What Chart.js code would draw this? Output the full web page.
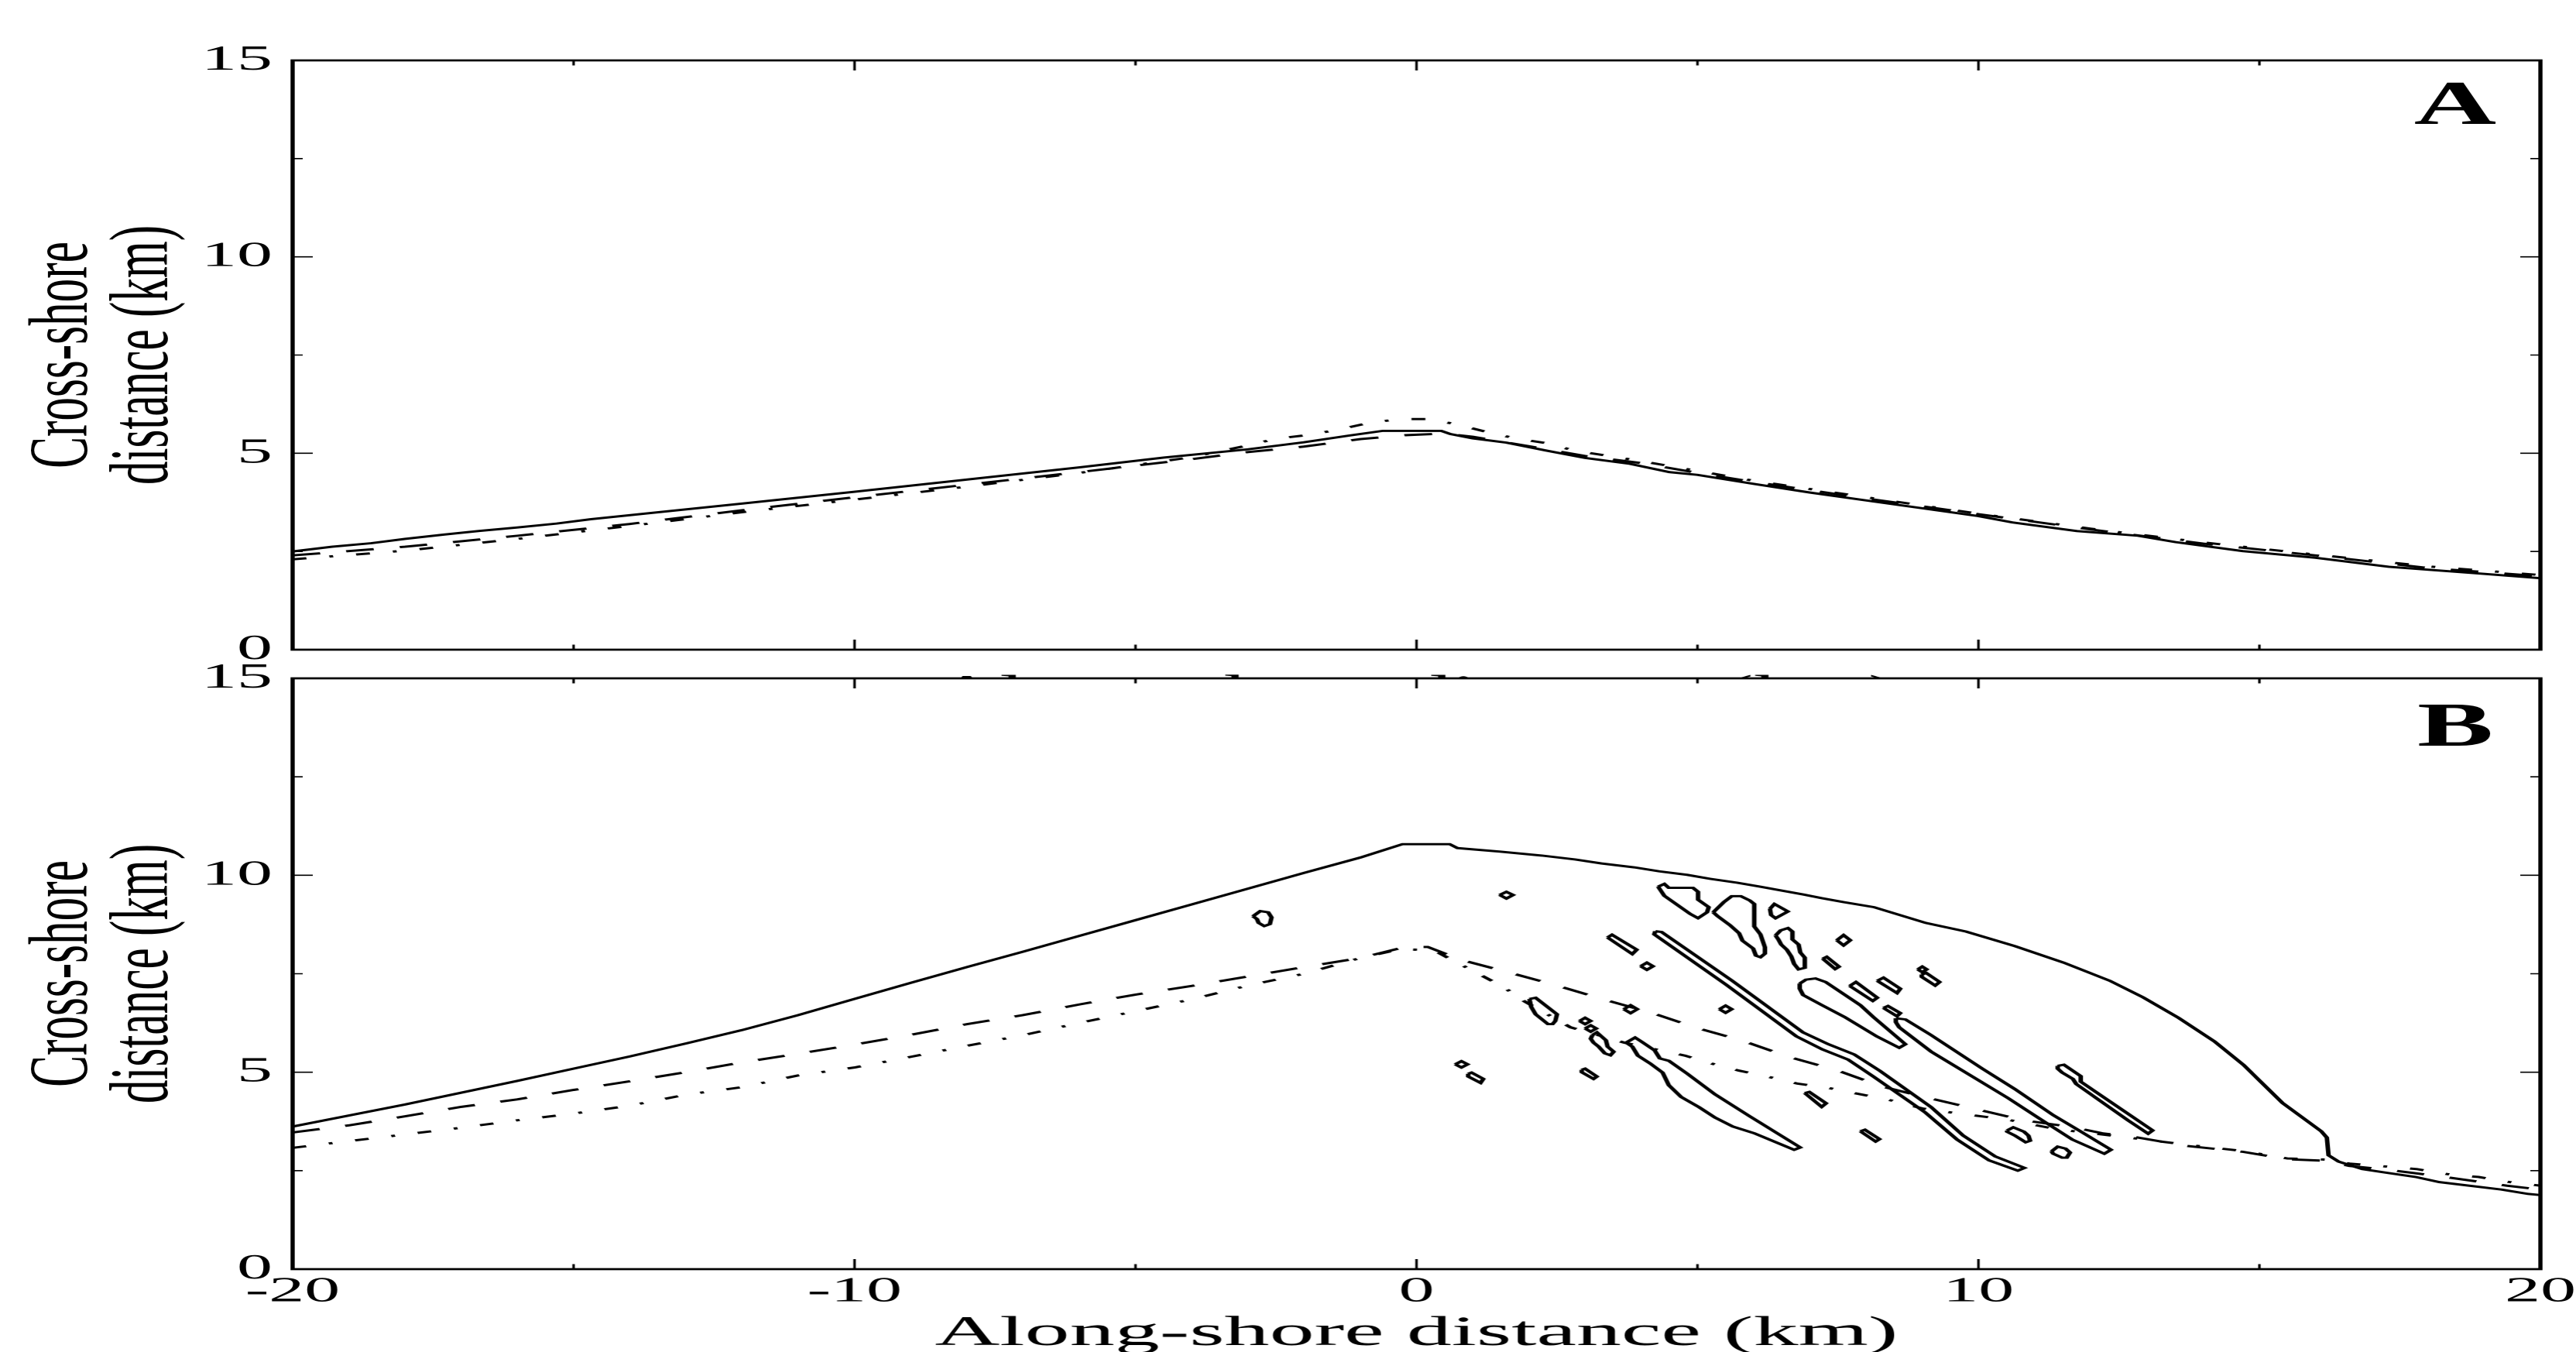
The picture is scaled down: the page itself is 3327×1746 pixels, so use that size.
<!DOCTYPE html>
<html><head><meta charset="utf-8">
<script src="https://cdn.jsdelivr.net/npm/chart.js@4.4.1/dist/chart.umd.min.js"></script>
<style>
html,body{margin:0;padding:0;background:#fff;}
#wrap{position:relative;width:3327px;height:1746px;overflow:hidden;background:#fff;}
#wrap canvas{position:absolute;left:0;}
</style></head><body>
<div id="wrap">
<canvas id="cA" width="1664" height="930" style="top:0px;width:3327px;height:930px"></canvas>
<canvas id="cB" width="1664" height="946" style="top:800px;width:3327px;height:946px"></canvas>
</div>
<script>
// ---------------- data (km) ----------------
const xRange = [-20, 20];
const yRange = [0, 15];
const xLabelTicks = [-20, -10, 0, 10, 20];
const xMajorTicks = [-10, 0, 10];
const xMinorTicks = [-15, -5, 5, 15];
const yLabelTicks = [0, 5, 10, 15];
const yMajorTicks = [5, 10];
const yMinorTicks = [2.5, 7.5, 12.5];

const xTitle = "Along-shore distance (km)";
const yTitleLines = ["Cross-shore", "distance (km)"];
const panelLabels = ["A", "B"];

// Panel A contours
const aSolid = [[-20,2.5],[-19.3,2.62],[-18.6,2.71],[-18,2.82],[-17.3,2.93],[-16.7,3.02],[-16,3.11],[-15.3,3.21],[-14.7,3.32],[-12,3.72],[-10,4.02],[-8,4.33],[-6,4.64],[-4.5,4.89],[-3,5.1],[-2,5.28],[-1.2,5.45],[-0.6,5.57],[0.44,5.57],[0.6,5.49],[1.0,5.38],[1.6,5.27],[2.3,5.07],[3.0,4.88],[3.8,4.73],[4.5,4.52],[5,4.45],[6,4.22],[7,4.0],[8,3.8],[9,3.6],[10,3.4],[10.6,3.24],[11.75,3.02],[12.84,2.9],[13.5,2.74],[14.7,2.51],[16,2.34],[17.3,2.11],[18.9,1.94],[20,1.82]];
const aDashed = [[-20,2.4],[-18,2.62],[-16,2.9],[-14,3.2],[-12,3.55],[-10,3.88],[-8,4.2],[-6,4.52],[-4,4.85],[-3,5.03],[-2,5.17],[-1,5.36],[-0.2,5.46],[0.5,5.5],[1,5.42],[2,5.18],[3,4.93],[4,4.75],[5,4.5],[6,4.27],[8,3.85],[10,3.45],[12,3.06],[14,2.7],[16,2.4],[18,2.08],[20,1.87]];
const aDashDot = [[-20,2.3],[-18,2.52],[-16,2.82],[-14,3.15],[-12,3.5],[-10,3.82],[-8,4.15],[-6,4.5],[-4,4.9],[-3,5.2],[-2.5,5.37],[-1.9,5.47],[-1.4,5.6],[-0.85,5.77],[-0.3,5.87],[0.2,5.87],[0.7,5.74],[1.2,5.56],[1.75,5.38],[2.3,5.26],[2.8,5.07],[4,4.8],[6,4.3],[8,3.88],[10,3.46],[12,3.08],[14,2.73],[16,2.42],[18,2.12],[20,1.9]];

// Panel B contours
const bSolid = [[-20,3.62],[-19,3.9],[-18,4.18],[-17,4.48],[-16,4.78],[-15,5.09],[-14,5.4],[-13,5.73],[-12,6.07],[-11,6.45],[-10,6.86],[-9,7.27],[-8,7.67],[-7,8.06],[-6,8.46],[-5,8.86],[-4,9.26],[-3,9.66],[-2,10.06],[-1,10.45],[-0.25,10.79],[0.59,10.79],[0.73,10.69],[1.49,10.6],[2.23,10.5],[2.83,10.4],[3.29,10.3],[3.88,10.2],[4.32,10.1],[4.82,10.01],[5.22,9.91],[5.71,9.81],[6.12,9.71],[6.5,9.61],[6.89,9.51],[7.21,9.42],[7.59,9.32],[8.14,9.19],[9.06,8.79],[9.78,8.57],[10.65,8.2],[11.52,7.78],[12.34,7.32],[12.93,6.9],[13.56,6.38],[14.2,5.78],[14.72,5.18],[15.41,4.22],[16.1,3.5],[16.2,3.34],[16.23,2.89],[16.41,2.73],[16.83,2.54],[17.25,2.45],[17.78,2.34],[18.2,2.21],[18.73,2.12],[19.31,2.02],[19.78,1.91],[20,1.88]];
const bDashed = [[-20,3.47],[-19,3.65],[-18,3.88],[-17,4.12],[-16,4.31],[-15,4.55],[-14,4.77],[-13,5.0],[-12,5.25],[-11,5.47],[-10,5.7],[-9,5.95],[-8,6.22],[-7,6.45],[-6,6.72],[-5,6.97],[-4,7.19],[-3,7.43],[-2,7.67],[-1,7.9],[-0.2,8.18],[0.2,8.18],[0.8,7.85],[1.6,7.55],[2.5,7.2],[3.3,6.86],[4.2,6.5],[5.0,6.12],[5.8,5.8],[6.6,5.4],[7.5,5.04],[8.3,4.63],[9.1,4.35],[10,4.05],[10.8,3.78],[11.7,3.6],[12.2,3.45],[12.8,3.35],[13.7,3.13],[14.7,2.98],[15.5,2.79],[16.2,2.75],[16.6,2.62],[17.3,2.52],[18.3,2.34],[19.4,2.12],[20,2.02]];
const bDashDot = [[-20,3.08],[-19,3.25],[-18,3.42],[-17,3.59],[-16,3.78],[-15,3.95],[-14,4.15],[-13,4.43],[-12,4.62],[-11,4.92],[-10,5.12],[-9,5.39],[-8,5.67],[-7,5.94],[-6,6.25],[-5,6.55],[-4,6.85],[-3,7.2],[-2,7.5],[-1,7.9],[-0.3,8.12],[0.3,8.1],[1.14,7.47],[1.55,7.16],[1.92,6.8],[2.74,6.14],[3.7,5.75],[4.78,5.42],[5.25,5.22],[5.74,5.04],[6.27,4.88],[6.78,4.71],[7.33,4.6],[7.86,4.45],[8.4,4.3],[9.0,4.08],[9.6,3.96],[10.5,3.8],[11.4,3.55],[12.2,3.42],[12.9,3.3],[13.7,3.16],[14.7,3.0],[15.5,2.81],[16.2,2.78],[16.6,2.68],[17.3,2.6],[17.8,2.54],[18.4,2.4],[18.9,2.34],[19.5,2.2],[20,2.12]];

// Panel B closed contours (islands)
const bIsland01 = [[-2.91,8.96],[-2.78,9.09],[-2.64,9.06],[-2.58,8.93],[-2.61,8.76],[-2.71,8.71],[-2.81,8.79],[-2.84,8.89]];
const bIsland02 = [[1.48,9.50],[1.60,9.58],[1.72,9.50],[1.60,9.41]];
const bIsland03 = [[4.30,9.71],[4.41,9.78],[4.49,9.68],[4.92,9.68],[5.01,9.58],[5.01,9.38],[5.20,9.19],[5.17,9.06],[5.01,8.91],[4.87,9.02],[4.41,9.48]];
const bIsland04 = [[5.28,9.06],[5.47,9.32],[5.61,9.47],[5.77,9.47],[5.93,9.36],[6.01,9.27],[6.01,8.70],[6.12,8.50],[6.20,8.17],[6.20,8.01],[6.12,7.92],[6.04,7.96],[5.99,8.14],[5.80,8.34],[5.74,8.53],[5.58,8.73],[5.36,8.96]];
const bIsland05 = [[6.29,9.15],[6.37,9.27],[6.61,9.08],[6.39,8.91],[6.31,8.99]];
const bIsland06 = [[6.39,8.47],[6.48,8.60],[6.61,8.66],[6.69,8.57],[6.69,8.37],[6.80,8.24],[6.83,8.04],[6.91,7.91],[6.91,7.65],[6.80,7.61],[6.72,7.75],[6.67,7.94],[6.59,8.11],[6.49,8.24],[6.44,8.37]];
const bIsland07 = [[7.48,8.35],[7.60,8.48],[7.72,8.35],[7.60,8.22]];
const bIsland08 = [[3.40,8.42],[3.48,8.49],[3.92,8.11],[3.84,8.00]];
const bIsland09 = [[3.99,7.69],[4.10,7.78],[4.21,7.69],[4.10,7.60]];
const bIsland10 = [[4.25,8.58],[4.36,8.56],[5.62,7.32],[6.88,6.01],[7.33,5.71],[7.79,5.45],[8.25,5.03],[9.16,4.11],[9.73,3.39],[10.30,2.86],[10.82,2.57],[10.70,2.50],[10.19,2.76],[9.62,3.29],[9.05,3.98],[8.13,4.89],[7.68,5.32],[7.22,5.58],[6.76,5.91],[5.51,7.22],[4.23,8.50]];
const bIsland11 = [[7.23,7.88],[7.30,7.93],[7.52,7.68],[7.45,7.62]];
const bIsland12 = [[8.92,7.61],[9.00,7.68],[9.08,7.61],[9.00,7.54]];
const bIsland13 = [[8.99,7.48],[9.07,7.52],[9.31,7.29],[9.23,7.20],[8.99,7.42]];
const bIsland14 = [[6.82,7.25],[6.93,7.35],[7.10,7.38],[7.28,7.29],[7.90,6.70],[8.13,6.40],[8.70,5.71],[8.59,5.62],[8.19,5.91],[7.62,6.40],[7.22,6.70],[6.88,6.96],[6.82,7.12]];
const bIsland15 = [[7.71,7.19],[7.82,7.29],[8.20,6.89],[8.12,6.81]];
const bIsland16 = [[8.20,7.32],[8.31,7.40],[8.61,7.12],[8.55,7.01]];
const bIsland17 = [[8.31,6.63],[8.39,6.68],[8.61,6.50],[8.55,6.42]];
const bIsland18 = [[8.53,6.37],[8.70,6.34],[9.16,5.94],[10.07,5.09],[10.65,4.57],[11.33,3.91],[11.79,3.52],[12.36,3.03],[12.24,2.93],[11.67,3.29],[11.10,3.81],[10.53,4.34],[9.73,5.03],[9.16,5.52],[8.59,6.14],[8.53,6.27]];
const bIsland19 = [[11.41,5.16],[11.52,5.19],[11.82,4.90],[11.82,4.76],[13.10,3.52],[13.02,3.44],[12.66,3.78],[11.74,4.70],[11.68,4.83],[11.49,4.99],[11.41,5.09]];
const bIsland20 = [[3.69,6.60],[3.81,6.70],[3.93,6.60],[3.81,6.50]];
const bIsland21 = [[2.01,6.86],[2.12,6.89],[2.50,6.47],[2.47,6.30],[2.42,6.22],[2.34,6.22],[2.12,6.47],[2.04,6.66]];
const bIsland22 = [[2.90,6.30],[3.00,6.38],[3.10,6.30],[3.00,6.22]];
const bIsland23 = [[3.00,6.11],[3.10,6.19],[3.20,6.11],[3.10,6.03]];
const bIsland24 = [[3.13,5.94],[3.21,6.01],[3.37,5.81],[3.40,5.65],[3.51,5.52],[3.45,5.43],[3.35,5.48],[3.24,5.65],[3.15,5.75],[3.10,5.85]];
const bIsland25 = [[3.73,5.75],[3.89,5.88],[4.00,5.78],[4.24,5.55],[4.33,5.35],[4.49,5.29],[4.82,4.96],[5.31,4.44],[5.93,3.88],[6.83,3.09],[6.72,3.03],[6.50,3.16],[6.01,3.45],[5.63,3.62],[5.31,3.85],[5.03,4.11],[4.71,4.37],[4.49,4.67],[4.38,4.99],[4.16,5.22],[3.94,5.42],[3.84,5.65]];
const bIsland26 = [[5.39,6.60],[5.50,6.69],[5.61,6.60],[5.50,6.51]];
const bIsland27 = [[0.69,5.20],[0.80,5.28],[0.91,5.20],[0.80,5.12]];
const bIsland28 = [[0.92,4.96],[0.98,4.99],[1.19,4.83],[1.14,4.73],[0.92,4.89]];
const bIsland29 = [[2.94,5.06],[3.00,5.09],[3.21,4.89],[3.15,4.83],[2.94,5.00]];
const bIsland30 = [[6.91,4.47],[6.99,4.50],[7.29,4.21],[7.21,4.12]];
const bIsland31 = [[7.90,3.50],[7.98,3.54],[8.24,3.30],[8.17,3.24]];
const bIsland32 = [[10.51,3.52],[10.62,3.60],[10.81,3.49],[10.89,3.39],[10.92,3.26],[10.84,3.22],[10.65,3.39],[10.51,3.49]];
const bIsland33 = [[11.30,2.99],[11.41,3.11],[11.55,3.06],[11.63,2.96],[11.57,2.83],[11.49,2.83],[11.33,2.93]];

const bIslands = [bIsland01,bIsland02,bIsland03,bIsland04,bIsland05,bIsland06,bIsland07,bIsland08,bIsland09,bIsland10,
  bIsland11,bIsland12,bIsland13,bIsland14,bIsland15,bIsland16,bIsland17,bIsland18,bIsland19,bIsland20,
  bIsland21,bIsland22,bIsland23,bIsland24,bIsland25,bIsland26,bIsland27,bIsland28,bIsland29,bIsland30,
  bIsland31,bIsland32,bIsland33];

// ---------------- styling / layout (chart units; canvas stretched 2x horizontally) ----------------
const SERIF = "'Liberation Serif','Times New Roman',serif";
const LINE_W = 2.9;
const DASHED = [18, 17];
const DASHDOT = [9, 15, 2.5, 15];
const PLOT_LEFT = 189, PLOT_RIGHT_PAD = 23;

const pts = a => a.map(p => ({x: p[0], y: p[1]}));
const closed = a => pts(a.concat([a[0]]));
function lineDs(data, dash) {
  return {data, showLine: true, pointRadius: 0, borderColor: '#000', backgroundColor: '#000',
          borderWidth: LINE_W, borderDash: dash || [], tension: 0, fill: false, borderCapStyle: 'butt', borderJoinStyle: 'miter'};
}

function drawText(ctx, text, x, y, font, sx, rot, align) {
  ctx.save();
  ctx.translate(x, y);
  if (rot) ctx.rotate(rot);
  ctx.scale(sx, 1);
  ctx.font = font;
  ctx.fillStyle = '#000';
  ctx.textAlign = align || 'center';
  ctx.textBaseline = 'alphabetic';
  ctx.fillText(text, 0, 0);
  ctx.restore();
}

function panelPlugin(cfg) {
  return {
    id: 'panel' + cfg.label,
    beforeDraw(chart) {
      if (!cfg.whiteFill) return;
      const a = chart.chartArea, ctx = chart.ctx;
      ctx.save(); ctx.fillStyle = '#fff';
      ctx.fillRect(a.left, a.top, a.right - a.left, a.bottom - a.top);
      ctx.restore();
    },
    afterDraw(chart) {
      const a = chart.chartArea, ctx = chart.ctx;
      const sx = chart.scales.x, sy = chart.scales.y;
      ctx.save();
      ctx.strokeStyle = '#000';
      ctx.lineWidth = 1.6;
      ctx.beginPath();
      const xt = (v, len) => { const p = sx.getPixelForValue(v);
        ctx.moveTo(p, a.bottom); ctx.lineTo(p, a.bottom - len);
        ctx.moveTo(p, a.top); ctx.lineTo(p, a.top + len); };
      const yt = (v, len) => { const p = sy.getPixelForValue(v);
        ctx.moveTo(a.left, p); ctx.lineTo(a.left + len, p);
        ctx.moveTo(a.right, p); ctx.lineTo(a.right - len, p); };
      xMajorTicks.forEach(v => xt(v, 13));
      xMinorTicks.forEach(v => xt(v, 6.5));
      yMajorTicks.forEach(v => yt(v, 13));
      yMinorTicks.forEach(v => yt(v, 6.5));
      ctx.stroke();
      ctx.lineWidth = 2.7;
      ctx.strokeRect(a.left, a.top, a.right - a.left, a.bottom - a.top);
      ctx.restore();
      const cy = (a.top + a.bottom) / 2;
      const cx = (a.left + a.right) / 2;
      drawText(ctx, yTitleLines[0], 56, cy, '54px ' + SERIF, 1.135, -Math.PI / 2, 'center');
      drawText(ctx, yTitleLines[1], 108, cy, '54px ' + SERIF, 1.135, -Math.PI / 2, 'center');
      drawText(ctx, xTitle, cx, a.bottom + cfg.xTitleOffset, '54px ' + SERIF, 1.075, 0, 'center');
      drawText(ctx, cfg.label, 1586, a.top + cfg.labelOffset, 'bold 80px ' + SERIF, 0.92, 0, 'center');
    }
  };
}

function makeChart(canvasId, datasets, cfg) {
  const H = document.getElementById(canvasId).height;
  return new Chart(document.getElementById(canvasId), {
    type: 'scatter',
    data: {datasets},
    options: {
      responsive: false, animation: false, devicePixelRatio: 2, events: [],
      layout: {padding: {left: 0, right: PLOT_RIGHT_PAD, top: cfg.top, bottom: 0}},
      plugins: {legend: {display: false}, tooltip: {enabled: false}},
      scales: {
        x: {type: 'linear', position: 'bottom', min: xRange[0], max: xRange[1],
            grid: {display: false, drawTicks: false}, border: {display: false},
            afterBuildTicks: s => { s.ticks = xLabelTicks.map(v => ({value: v})); },
            ticks: {display: cfg.xLabels, color: '#000', padding: 6.5, maxRotation: 0, autoSkip: false,
                    font: {family: SERIF, size: 46, lineHeight: 1}},
            afterFit: s => { s.height = H - cfg.bottom; s.paddingLeft = 0; s.paddingRight = 0; }},
        y: {type: 'linear', position: 'left', min: yRange[0], max: yRange[1],
            grid: {display: false, drawTicks: false}, border: {display: false},
            afterBuildTicks: s => { s.ticks = yLabelTicks.map(v => ({value: v})); },
            ticks: {color: '#000', padding: 13, font: {family: SERIF, size: 46, lineHeight: 1}},
            afterFit: s => { s.width = PLOT_LEFT; s.paddingTop = 0; s.paddingBottom = 0; }}
      }
    },
    plugins: [panelPlugin(cfg)]
  });
}

const dsA = [lineDs(pts(aSolid)), lineDs(pts(aDashed), DASHED), lineDs(pts(aDashDot), DASHDOT)];
const dsB = [lineDs(pts(bSolid)), lineDs(pts(bDashed), DASHED), lineDs(pts(bDashDot), DASHDOT)]
  .concat(bIslands.map(isl => lineDs(closed(isl))));

makeChart('cA', dsA, {label: panelLabels[0], top: 78, bottom: 839, xLabels: false, whiteFill: false, xTitleOffset: 70, labelOffset: 82});
makeChart('cB', dsB, {label: panelLabels[1], top: 76, bottom: 839, xLabels: true, whiteFill: true, xTitleOffset: 98, labelOffset: 87});
</script>
</body></html>
